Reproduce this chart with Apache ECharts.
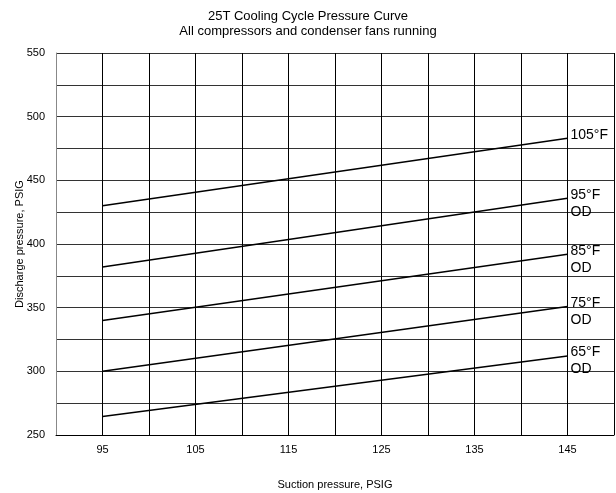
<!DOCTYPE html>
<html><head><meta charset="utf-8">
<script src="https://cdn.jsdelivr.net/npm/echarts@6/dist/echarts.min.js"></script>
<style>html,body{margin:0;padding:0;background:#fff}#c{width:616px;height:493px}</style>
</head><body><div id="c"></div>
<script>
const suction = [95, 145];
const od105 = [430, 483];
const od95 = [382, 436];
const od85 = [340, 392];
const od75 = [300, 351];
const od65 = [264.5, 312];
const seriesNames = ['105°F', '95°F\nOD', '85°F\nOD', '75°F\nOD', '65°F\nOD'];
const seriesData = [od105, od95, od85, od75, od65];
const xTicks = [95, 105, 115, 125, 135, 145];
const yTicks = [250, 300, 350, 400, 450, 500, 550];

const font = 'Liberation Sans, Arial, sans-serif';
const chart = echarts.init(document.getElementById('c'));
chart.setOption({
  animation: false,
  title: {
    text: '25T Cooling Cycle Pressure Curve\nAll compressors and condenser fans running',
    left: 'center', top: 4,
    textStyle: { fontFamily: font, fontSize: 13, fontWeight: 'normal', color: '#000', lineHeight: 15 }
  },
  grid: { left: 56, right: 2, top: 53, bottom: 58, outerBoundsMode: 'none', containLabel: false },
  xAxis: {
    type: 'value', min: 90, max: 150, interval: 5,
    name: 'Suction pressure, PSIG', nameLocation: 'middle', nameGap: 44, nameMoveOverlap: false,
    nameTextStyle: { fontFamily: font, fontSize: 11, color: '#000' },
    axisLine: { lineStyle: { color: '#000', width: 1 } },
    axisTick: { show: false },
    axisLabel: { margin: 9, fontFamily: font, fontSize: 11, color: '#000',
      formatter: v => xTicks.includes(v) ? String(v) : '' },
    splitLine: { show: true, lineStyle: { color: '#000', width: 1 } }
  },
  yAxis: {
    type: 'value', min: 250, max: 550, interval: 25,
    name: 'Discharge pressure, PSIG', nameLocation: 'middle', nameGap: 31, nameRotate: 90, nameMoveOverlap: false,
    nameTextStyle: { fontFamily: font, fontSize: 11, color: '#000' },
    axisLine: { show: true, lineStyle: { color: '#888', width: 1 } },
    axisTick: { show: false },
    axisLabel: { margin: 11, fontFamily: font, fontSize: 11, color: '#000',
      formatter: v => yTicks.includes(v) ? String(v) : '' },
    splitLine: { show: true, lineStyle: { color: '#333', width: 1 } }
  },
  series: seriesData.map((d, i) => ({
    type: 'line',
    name: seriesNames[i],
    symbol: 'circle', symbolSize: 0, showSymbol: true,
    lineStyle: { color: '#000', width: 1.5 },
    itemStyle: { color: '#000' },
    data: suction.map((x, j) => j === suction.length - 1 ? {
      value: [x, d[j]],
      label: { show: true, position: 'right', distance: 3, formatter: seriesNames[i],
        align: 'left', verticalAlign: 'top', offset: [0, -12],
        fontFamily: font, fontSize: 14, color: '#000', lineHeight: 17 }
    } : [x, d[j]])
  }))
});
</script></body></html>
